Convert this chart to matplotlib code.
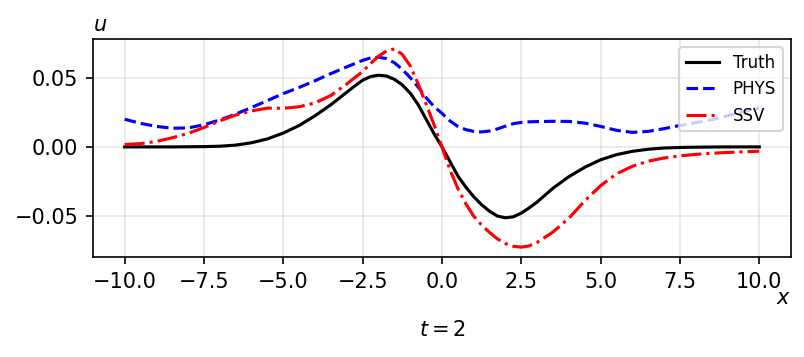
import matplotlib
matplotlib.use('Agg')
import matplotlib.pyplot as plt

# sample positions (finer near the pulse)
x = [-10, -9.5, -9, -8.5, -8, -7.5, -7, -6.5, -6, -5.5, -5, -4.5, -4, -3.5,
     -3, -2.75, -2.5, -2.25, -2, -1.75, -1.5, -1.25, -1, -0.75, -0.5, -0.25,
     0, 0.25, 0.5, 0.75, 1, 1.25, 1.5, 1.75, 2, 2.25, 2.5, 2.75,
     3, 3.5, 4, 4.5, 5, 5.5, 6, 6.5, 7, 7.5, 8, 8.5, 9, 9.5, 10]

truth = [0, 0, 0, 0, 0.0001, 0.0002, 0.0005, 0.0013, 0.0030, 0.0058, 0.0100, 0.0155, 0.0225, 0.0305,
         0.0395, 0.0440, 0.0482, 0.0508, 0.0518, 0.0512, 0.0488, 0.0448, 0.0388, 0.0305, 0.0200, 0.0095,
         0.0000, -0.0105, -0.0210, -0.0290, -0.0360, -0.0418, -0.0465, -0.0500, -0.0512, -0.0505, -0.0478, -0.0440,
         -0.0398, -0.0298, -0.0215, -0.0147, -0.0093, -0.0056, -0.0032, -0.0017, -0.0008, -0.0004, -0.0002,
         -0.0001, 0, 0, 0]

phys = [0.0200, 0.0170, 0.0148, 0.0135, 0.0137, 0.0160, 0.0195, 0.0237, 0.0285, 0.0335, 0.0385, 0.0430, 0.0478, 0.0530,
        0.0578, 0.0602, 0.0625, 0.0643, 0.0648, 0.0638, 0.0608, 0.0560, 0.0500, 0.0432, 0.0355, 0.0292,
        0.0242, 0.0188, 0.0148, 0.0125, 0.0112, 0.0108, 0.0115, 0.0130, 0.0150, 0.0168, 0.0177, 0.0181,
        0.0183, 0.0185, 0.0184, 0.0172, 0.0148, 0.0120, 0.0105, 0.0112, 0.0132, 0.0155, 0.0175,
        0.0197, 0.0225, 0.0255, 0.0283]

ssv = [0.0017, 0.0024, 0.0040, 0.0066, 0.0098, 0.0140, 0.0188, 0.0230, 0.0260, 0.0280, 0.0279, 0.0290, 0.0318, 0.0372,
       0.0455, 0.0500, 0.0545, 0.0603, 0.0655, 0.0693, 0.0708, 0.0668, 0.0585, 0.0455, 0.0310, 0.0160,
       0.0000, -0.0165, -0.0300, -0.0410, -0.0500, -0.0565, -0.0618, -0.0665, -0.0698, -0.0718, -0.0724, -0.0715,
       -0.0690, -0.0615, -0.0515, -0.0390, -0.0280, -0.0195, -0.0140, -0.0103, -0.0080, -0.0065, -0.0054,
       -0.0046, -0.0040, -0.0035, -0.0031]

fig = plt.figure(figsize=(805 / 150, 357 / 150), dpi=150)
ax = fig.add_axes([0.1155, 0.280, 0.8671, 0.6108])

ax.plot(x, truth, color='k', linestyle='-', label='Truth')
ax.plot(x, phys, color='b', linestyle='--', label='PHYS')
ax.plot(x, ssv, color='r', linestyle='-.', label='SSV')

ax.grid(alpha=0.3)
ax.legend(loc='upper right', fontsize=8)

ax.text(0.0, 1.02, '$u$', transform=ax.transAxes, ha='left', va='bottom', fontsize=10)
ax.text(1.0, -0.19, '$x$', transform=ax.transAxes, ha='right', va='center', fontsize=10)
ax.text(0.5, -0.335, '$t=2$', transform=ax.transAxes, ha='center', va='center', fontsize=10)

fig.savefig('out.png', dpi=150)
